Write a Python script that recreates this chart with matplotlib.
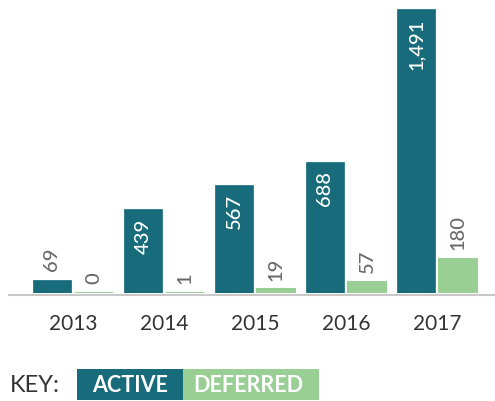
import matplotlib
matplotlib.use('Agg')
import matplotlib.pyplot as plt
from matplotlib.patches import Rectangle
import numpy as np

# Data
years = ['2013', '2014', '2015', '2016', '2017']
active = [69, 439, 567, 688, 1491]
deferred = [0, 1, 19, 57, 180]

teal = '#176b7a'
green = '#99cf95'

plt.rcParams['font.family'] = ['Lato', 'DejaVu Sans']

fig = plt.figure(figsize=(4.95, 4.02), dpi=100)
ax = fig.add_axes([9 / 495, 108 / 402, 486 / 495, 294 / 402])

x = np.arange(len(years))
w = 0.418
off = 0.231

ax.bar(x - off, active, w, color=teal, edgecolor=teal, linewidth=0.5, zorder=3)
ax.bar(x + off, deferred, w, color=green, edgecolor=green, linewidth=1.5, zorder=3)

ax.set_xlim(-0.703, 4.637)
ax.set_ylim(0, 1491 * 294 / 284)

# value labels
for xi, v in zip(x, active):
    s = f'{v:,}'
    if v > 300:
        ax.annotate(s, (xi - off, v), xytext=(0, -6), textcoords='offset points',
                    rotation=90, ha='center', va='top', color='white',
                    fontsize=14.5, fontweight='medium', zorder=4)
    else:
        ax.annotate(s, (xi - off, v), xytext=(0, 7), textcoords='offset points',
                    rotation=90, ha='center', va='bottom', color='#6a6a6a',
                    fontsize=14.5, fontweight='medium', zorder=4)
for xi, v in zip(x, deferred):
    ax.annotate(f'{v:,}', (xi + off, v), xytext=(0, 7), textcoords='offset points',
                rotation=90, ha='center', va='bottom', color='#6a6a6a',
                fontsize=14.5, fontweight='medium', zorder=4)

for side in ['top', 'right', 'left']:
    ax.spines[side].set_visible(False)
ax.spines['bottom'].set_color('#c8c8c8')
ax.spines['bottom'].set_linewidth(1.5)
ax.spines['bottom'].set_position(('outward', 1.5))
ax.spines['bottom'].set_zorder(1)
ax.set_yticks([])
ax.set_xticks(x)
ax.set_xticklabels(years, fontsize=15, color='#333333')
ax.tick_params(axis='x', length=0, pad=13)

# key
fig.text(10 / 495, 1 - 386 / 402, 'KEY:', fontsize=17, color='#333333',
         ha='left', va='center')
fig.add_artist(Rectangle((77 / 495, 1 / 402), 106 / 495, 31 / 402,
                         transform=fig.transFigure, color=teal, lw=0))
fig.add_artist(Rectangle((183 / 495, 1 / 402), 136 / 495, 31 / 402,
                         transform=fig.transFigure, color=green, lw=0))
fig.text(130 / 495, 1 - 386 / 402, 'ACTIVE', fontsize=15.5, color='white',
         ha='center', va='center', fontweight='bold')
fig.text(248 / 495, 1 - 386 / 402, 'DEFERRED', fontsize=15.5, color='white',
         ha='center', va='center', fontweight='bold')

fig.savefig('out.png', dpi=100)
